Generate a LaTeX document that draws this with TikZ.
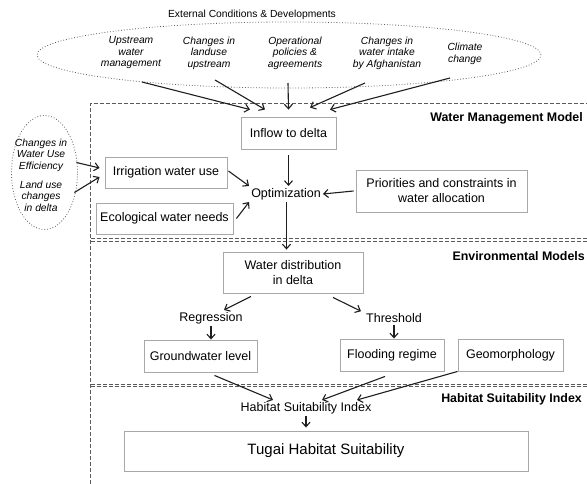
\documentclass[tikz,border=0pt]{standalone}
\usepackage{fontspec}
\setmainfont{Liberation Sans}
\usepackage{xcolor}
\usetikzlibrary{arrows.meta,shapes.geometric,calc}
\definecolor{boxgray}{HTML}{A8A8A8}
\definecolor{framegray}{HTML}{5A5A5A}
\definecolor{arrowblack}{HTML}{1E1E1E}
\tikzset{
  box/.style={draw=boxgray, line width=0.9pt, align=center, inner sep=0pt, font=\fontsize{12.5}{15}\selectfont},
  txt/.style={align=center, inner sep=2pt, font=\fontsize{12.5}{15}\selectfont},
  itxt/.style={align=center, inner sep=1pt, font=\fontsize{10.3}{11.5}\selectfont\itshape},
  modlabel/.style={anchor=east, inner sep=0pt, font=\fontsize{12.4}{14}\selectfont\bfseries},
  arr/.style={-{Straight Barb[length=4.5pt,width=8pt]}, draw=arrowblack, line width=1.1pt},
  dashframe/.style={draw=framegray, line width=0.9pt, dash pattern=on 4pt off 2pt},
  sepline/.style={dashframe, line width=1pt, double=white, double distance=1.4pt},
  dotell/.style={ellipse, draw=framegray, dotted, line width=0.8pt, inner sep=0pt}
}
\begin{document}
\begin{tikzpicture}[x=1pt,y=-1pt]
\useasboundingbox (0,0) rectangle (587,484);
% external conditions
\node[dotell, minimum width=504pt, minimum height=66pt] (ext) at (289,55) {};
\node[font=\fontsize{10.3}{12}\selectfont] (extt) at (252,15) {External Conditions \& Developments};
\node[itxt] (u1) at (131,53) {Upstream\\water\\management};
\node[itxt] (u2) at (209,53) {Changes in\\landuse\\upstream};
\node[itxt] (u3) at (295,53) {Operational\\policies \&\\agreements};
\node[itxt] (u4) at (387,53) {Changes in\\water intake\\by Afghanistan};
\node[itxt] (u5) at (465,54) {Climate\\change};
\coordinate (s1) at (142,82);
\coordinate (s2) at (215,80);
\coordinate (s3) at (288,83);
\coordinate (s4) at (365,83);
\coordinate (s5) at (450,78);
% local changes
\node[dotell, minimum width=66pt, minimum height=114pt] (loc) at (44.5,172.5) {};
\node[itxt] (l1) at (41,155) {Changes in\\Water Use\\Efficiency};
\node[itxt] (l2) at (41,196) {Land use\\changes\\in delta};
% model frame
\draw[dashframe] (90.5,484) -- (90.5,103) -- (587,103);
\draw[sepline] (90.5,240) -- (587,240);
\draw[sepline] (90.5,385.5) -- (587,385.5);
\node[modlabel] (wmm) at (583,118) {Water Management Model};
\node[modlabel] (envm) at (585,256) {Environmental Models};
\node[modlabel] (hsim) at (582,399) {Habitat Suitability Index};
% water management
\node[box, minimum width=95pt, minimum height=32pt] (inflow) at (288.5,133) {Inflow to delta};
\node[box, minimum width=122pt, minimum height=31pt] (irr) at (166,172.5) {Irrigation water use};
\node[box, minimum width=137pt, minimum height=31pt] (eco) at (164.5,218.5) {Ecological water needs};
\node[box, minimum width=171pt, minimum height=42pt] (prio) at (441.5,191) {Priorities and constraints in\\water allocation};
\node[txt] (opt) at (286,194) {Optimization};
% environmental models
\node[box, minimum width=140pt, minimum height=41pt] (wd) at (293,272.5) {Water distribution\\in delta};
\node[txt] (reg) at (211,318) {Regression};
\node[txt] (thr) at (394,318) {Threshold};
\node[box, minimum width=113pt, minimum height=32pt] (gw) at (200.5,356) {Groundwater level};
\node[box, minimum width=104pt, minimum height=32pt] (flood) at (392,355) {Flooding regime};
\node[box, minimum width=105pt, minimum height=32pt] (geo) at (510.5,355) {Geomorphology};
% habitat suitability
\node[txt] (hsi) at (306,408) {Habitat Suitability Index};
\node[box, minimum width=404pt, minimum height=40pt, font=\fontsize{15}{18}\selectfont] (tugai) at (326,451) {Tugai Habitat Suitability};
% connectors
\draw[arr] (s1) -- ([xshift=-38.5pt,yshift=7pt]inflow.north);
\draw[arr] (s2) -- ([xshift=-23.5pt,yshift=7pt]inflow.north);
\draw[arr] (s3) -- ([yshift=7pt]inflow.north);
\draw[arr] (s4) -- ([xshift=21.5pt,yshift=9pt]inflow.north);
\draw[arr] (s5) -- ([xshift=41.5pt,yshift=7pt]inflow.north);
\draw[arr] ([xshift=-1.5pt,yshift=10pt]loc.east) -- ([xshift=-5pt,yshift=4.5pt]irr.west);
\draw[arr] ([xshift=-3.5pt,yshift=-20pt]loc.east) -- ([xshift=-5pt,yshift=-4.5pt]irr.west);
\draw[arr] ([yshift=-6pt]inflow.south) -- (inflow.south |- opt.north);
\draw[arr] ([xshift=1pt,yshift=1.5pt]irr.east) -- (opt.north west);
\draw[arr] ([xshift=3pt]eco.east) -- (opt.south west);
\draw[arr] ([xshift=-2pt]prio.west) -- (opt.east);
\draw[arr] ([xshift=0.5pt]opt.south) -- ([xshift=0.5pt,yshift=2pt]opt.south |- wd.north);
\draw[arr] ([xshift=-42pt,yshift=-3pt]wd.south) -- ([xshift=13pt]reg.north);
\draw[arr] ([xshift=40pt,yshift=-4pt]wd.south) -- ([xshift=-33pt]thr.north);
\draw[arr] (reg.south) -- (reg.south |- gw.north);
\draw[arr] (thr.south) -- (thr.south |- flood.north);
\draw[arr] ([xshift=14pt,yshift=-3pt]gw.south) -- ([xshift=-33pt]hsi.north);
\draw[arr] ([xshift=-7pt,yshift=-5pt]flood.south) -- ([xshift=16pt]hsi.north);
\draw[arr] (geo.south west) -- ([xshift=51pt]hsi.north);
\draw[arr] (hsi.south) -- ([yshift=3pt]hsi.south |- tugai.north);
\end{tikzpicture}
\end{document}
